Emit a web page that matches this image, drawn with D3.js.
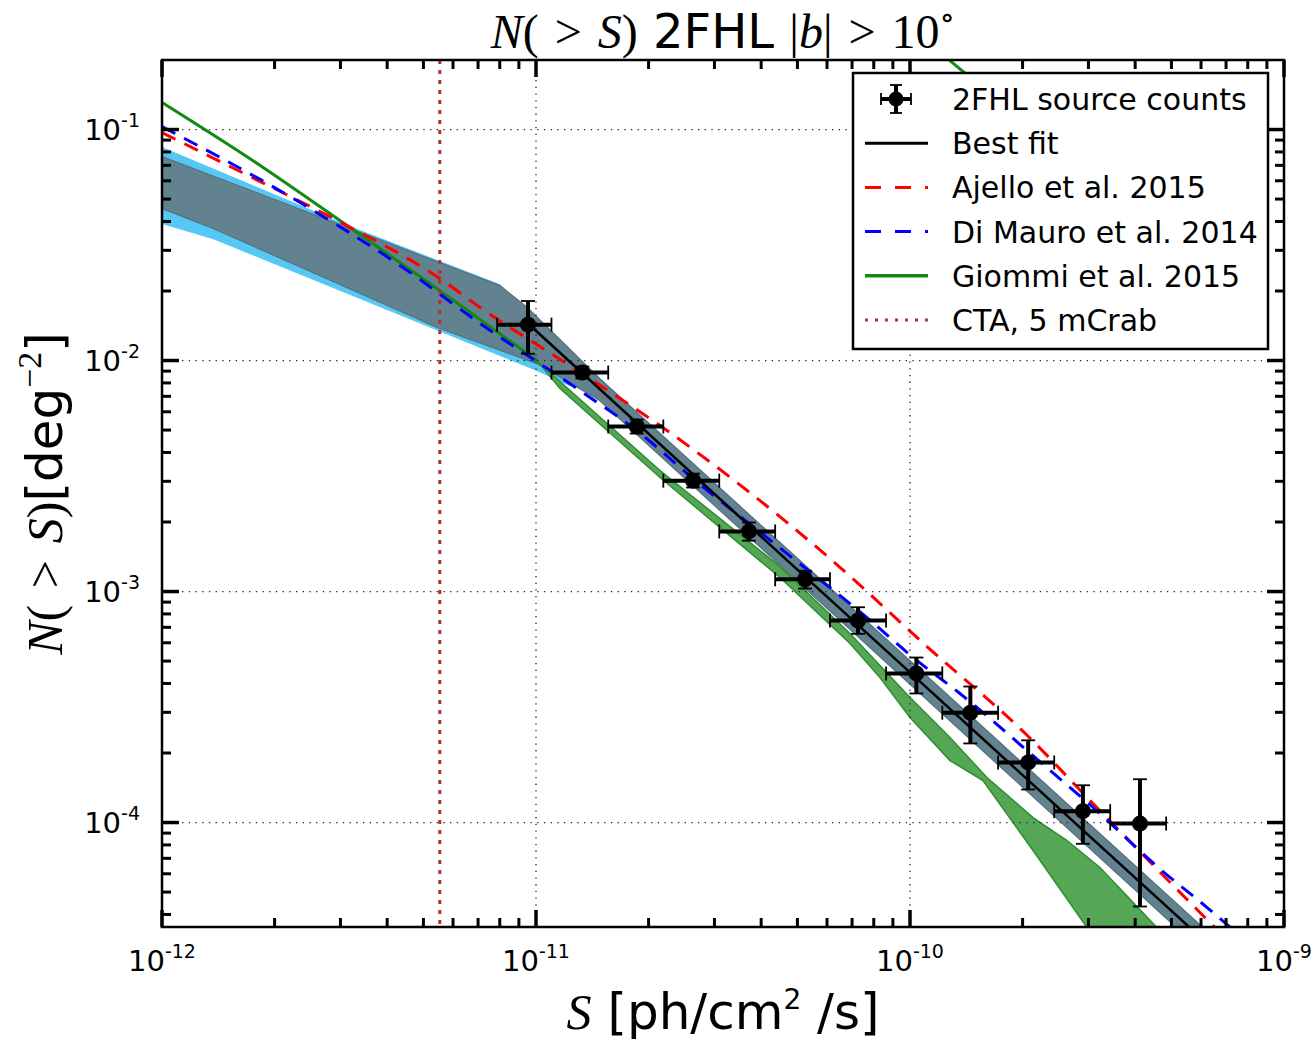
<!DOCTYPE html>
<html>
<head>
<meta charset="utf-8">
<script src="https://cdn.jsdelivr.net/npm/d3@7/dist/d3.min.js"></script>
<style>
body { margin: 0; background: #fff; }
svg { display: block; }
.sans { font-family: "DejaVu Sans", sans-serif; }
.math { font-family: "Liberation Serif", "DejaVu Serif", serif; }
</style>
</head>
<body>
<div id="chart"></div>
<script>
// 2FHL source counts, binned
var binLo = [7.87e-12, 1.10e-11, 1.56e-11, 2.19e-11, 3.09e-11, 4.36e-11, 6.11e-11, 8.63e-11, 1.22e-10, 1.72e-10, 2.43e-10, 3.43e-10];
var binHi = [1.10e-11, 1.56e-11, 2.19e-11, 3.09e-11, 4.36e-11, 6.11e-11, 8.63e-11, 1.22e-10, 1.72e-10, 2.43e-10, 3.43e-10, 4.84e-10];
var countS = [9.52e-12, 1.33e-11, 1.86e-11, 2.63e-11, 3.71e-11, 5.24e-11, 7.26e-11, 1.04e-10, 1.45e-10, 2.07e-10, 2.90e-10, 4.12e-10];
var countN = [1.43e-2, 8.87e-3, 5.18e-3, 3.02e-3, 1.82e-3, 1.13e-3, 7.49e-4, 4.42e-4, 2.99e-4, 1.82e-4, 1.12e-4, 9.90e-5];
var countHi = [1.81e-2, 9.42e-3, 5.55e-3, 3.24e-3, 1.99e-3, 1.23e-3, 8.55e-4, 5.18e-4, 3.88e-4, 2.27e-4, 1.45e-4, 1.54e-4];
var countLo = [1.07e-2, 8.36e-3, 4.83e-3, 2.82e-3, 1.66e-3, 1.03e-3, 6.56e-4, 3.62e-4, 2.20e-4, 1.39e-4, 8.09e-5, 4.33e-5];

// best fit and its uncertainty band
var fitS = [9.52e-12, 5.30e-11, 6.54e-10];
var fitN = [1.446e-2, 1.14e-3, 2.79e-5];
var bandUpS = [1e-12, 8.01e-12, 9.46e-12, 1.48e-11, 1.74e-10, 7.17e-10];
var bandUpN = [7.64e-2, 2.11e-2, 1.70e-2, 8.36e-3, 2.22e-4, 2.75e-5];
var bandLowS = [1e-12, 1.37e-12, 5.44e-12, 1.006e-11, 1.48e-11, 1.74e-10, 7.17e-10];
var bandLowN = [4.55e-2, 3.73e-2, 1.39e-2, 9.70e-3, 6.71e-3, 1.747e-4, 2.154e-5];

// extrapolation band (light blue)
var extUpS = [1e-12, 3.18e-12, 8.01e-12, 1.23e-11];
var extUpN = [8.36e-2, 3.80e-2, 2.13e-2, 1.08e-2];
var extLowS = [1e-12, 1.37e-12, 1.006e-11, 1.23e-11];
var extLowN = [3.92e-2, 3.37e-2, 9.05e-3, 7.79e-3];

// models
var ajelloS = [1e-12, 1.72e-12, 2.94e-12, 5.53e-12, 7.09e-12, 1.23e-11, 2.24e-11, 3.45e-11, 6.11e-11, 1.11e-10, 2.06e-10, 3.03e-10, 5.96e-10, 6.74e-10];
var ajelloN = [0.0970, 0.0626, 0.0404, 0.02265, 0.01696, 9.51e-3, 4.98e-3, 2.96e-3, 1.389e-3, 5.78e-4, 2.38e-4, 1.245e-4, 4.08e-5, 3.34e-5];
var mauroS = [1e-12, 2.34e-12, 4.33e-12, 7.22e-12, 1.31e-11, 1.86e-11, 2.63e-11, 4.69e-11, 7.67e-11, 1.02e-10, 1.36e-10, 2.37e-10, 3.09e-10, 4.58e-10, 6.23e-10, 7.40e-10];
var mauroN = [0.1030, 0.0483, 0.02578, 0.01417, 7.415e-3, 4.977e-3, 3.084e-3, 1.46e-3, 7.716e-4, 5.18e-4, 3.618e-4, 1.679e-4, 1.161e-4, 6.45e-5, 4.285e-5, 3.375e-5];
var giommiS = [1e-12, 1.83e-12, 3.18e-12, 5.53e-12, 1.006e-11];
var giommiN = [0.1309, 0.0699, 0.03765, 0.02009, 0.0100];
var giommiTailS = [1.25e-10, 1.74e-10];
var giommiTailN = [0.205, 0.131];
var giommiUpS = [1.006e-11, 1.159e-11, 2.146e-11, 4.49e-11, 6.91e-11, 1.0e-10, 1.279e-10, 1.606e-10, 2.133e-10, 2.63e-10, 3.22e-10, 4.575e-10, 5.11e-10];
var giommiUpN = [1.0e-2, 8.11e-3, 3.34e-3, 1.283e-3, 6.58e-4, 3.48e-4, 2.333e-4, 1.566e-4, 1.051e-4, 8.36e-5, 6.39e-5, 3.51e-5, 2.93e-5];
var giommiLowS = [1.006e-11, 1.159e-11, 2.146e-11, 4.49e-11, 6.91e-11, 8.31e-11, 1.0e-10, 1.279e-10, 1.567e-10, 2.133e-10, 2.974e-10, 3.22e-10];
var giommiLowN = [1.0e-2, 7.565e-3, 3.115e-3, 1.15e-3, 5.955e-4, 4.24e-4, 2.848e-4, 1.855e-4, 1.52e-4, 7.565e-5, 3.51e-5, 2.93e-5];

var ctaS = 5.53e-12;

var xTicks = [1e-12, 1e-11, 1e-10, 1e-9];
var xTickExp = ["-12", "-11", "-10", "-9"];
var yTicks = [1e-1, 1e-2, 1e-3, 1e-4];
var yTickExp = ["-1", "-2", "-3", "-4"];

var legendLabels = ["2FHL source counts", "Best fit", "Ajello et al. 2015", "Di Mauro et al. 2014", "Giommi et al. 2015", "CTA, 5 mCrab"];

var margin = { top: 60, right: 27, bottom: 113, left: 162 },
    width = 1311 - margin.left - margin.right,
    height = 1040 - margin.top - margin.bottom;

var x = d3.scaleLog().domain([1e-12, 1e-9]).range([0, width]);
var y = d3.scaleLog().domain([3.53e-5, 0.2]).range([height, 0]);

var svg = d3.select("#chart").append("svg")
    .attr("width", 1311)
    .attr("height", 1040);

svg.append("defs").append("clipPath").attr("id", "clip")
    .append("rect").attr("width", width).attr("height", height);

var chart = svg.append("g")
    .attr("transform", "translate(" + margin.left + "," + margin.top + ")");

var plot = chart.append("g").attr("clip-path", "url(#clip)");

function pts(S, N) {
    return S.map(function (s, i) { return [x(s), y(N[i])]; });
}

function bandPath(upS, upN, lowS, lowN) {
    var p = pts(upS, upN).concat(pts(lowS, lowN).reverse());
    return "M" + p.map(function (d) { return d.join(","); }).join("L") + "Z";
}

var smooth = d3.line().curve(d3.curveMonotoneX);
var straight = d3.line();

// bands
plot.append("path")
    .attr("d", bandPath(extUpS, extUpN, extLowS, extLowN))
    .attr("fill", "#55c8f6")
    .attr("stroke", "#55c8f6")
    .attr("stroke-width", 1);

plot.append("path")
    .attr("d", bandPath(bandUpS, bandUpN, bandLowS, bandLowN))
    .attr("fill", "#62828f")
    .attr("stroke", "#55707c")
    .attr("stroke-width", 1.2);

plot.append("path")
    .attr("d", bandPath(giommiUpS, giommiUpN, giommiLowS, giommiLowN))
    .attr("fill", "#55a655")
    .attr("stroke", "#2f8f2f")
    .attr("stroke-width", 1.5);

// grid
chart.append("g").selectAll("line")
    .data(xTicks.slice(1, 3))
    .enter().append("line")
    .attr("x1", function (d) { return x(d); })
    .attr("x2", function (d) { return x(d); })
    .attr("y1", 0).attr("y2", height)
    .attr("stroke", "#222").attr("stroke-width", 1.3)
    .attr("stroke-dasharray", "1.3,5.4");

chart.append("g").selectAll("line")
    .data(yTicks)
    .enter().append("line")
    .attr("y1", function (d) { return y(d); })
    .attr("y2", function (d) { return y(d); })
    .attr("x1", 0).attr("x2", width)
    .attr("stroke", "#222").attr("stroke-width", 1.3)
    .attr("stroke-dasharray", "1.3,5.4");

// model lines
plot.append("path")
    .attr("d", smooth(pts(giommiS, giommiN)))
    .attr("fill", "none").attr("stroke", "#128a12").attr("stroke-width", 3);

plot.append("path")
    .attr("d", straight(pts(giommiTailS, giommiTailN)))
    .attr("fill", "none").attr("stroke", "#128a12").attr("stroke-width", 3);

plot.append("path")
    .attr("d", smooth(pts(ajelloS, ajelloN)))
    .attr("fill", "none").attr("stroke", "#ff0000").attr("stroke-width", 3)
    .attr("stroke-dasharray", "15,10");

plot.append("path")
    .attr("d", smooth(pts(mauroS, mauroN)))
    .attr("fill", "none").attr("stroke", "#0000ff").attr("stroke-width", 3)
    .attr("stroke-dasharray", "15,10");

plot.append("path")
    .attr("d", straight(pts(fitS, fitN)))
    .attr("fill", "none").attr("stroke", "#000").attr("stroke-width", 2.5);

plot.append("line")
    .attr("x1", x(ctaS)).attr("x2", x(ctaS))
    .attr("y1", 0).attr("y2", height)
    .attr("stroke", "#b03030").attr("stroke-width", 3)
    .attr("stroke-dasharray", "4,6");

// error bars
var eb = plot.append("g").selectAll("g")
    .data(countS.map(function (s, i) { return i; }))
    .enter().append("g");

eb.append("line")
    .attr("x1", function (i) { return x(binLo[i]); })
    .attr("x2", function (i) { return x(binHi[i]); })
    .attr("y1", function (i) { return y(countN[i]); })
    .attr("y2", function (i) { return y(countN[i]); })
    .attr("stroke", "#000").attr("stroke-width", 4);

eb.append("line")
    .attr("x1", function (i) { return x(countS[i]); })
    .attr("x2", function (i) { return x(countS[i]); })
    .attr("y1", function (i) { return y(countLo[i]); })
    .attr("y2", function (i) { return y(countHi[i]); })
    .attr("stroke", "#000").attr("stroke-width", 4);

[binLo, binHi].forEach(function (arr) {
    eb.append("line")
        .attr("x1", function (i) { return x(arr[i]); })
        .attr("x2", function (i) { return x(arr[i]); })
        .attr("y1", function (i) { return y(countN[i]) - 7; })
        .attr("y2", function (i) { return y(countN[i]) + 7; })
        .attr("stroke", "#000").attr("stroke-width", 1.8);
});

[countLo, countHi].forEach(function (arr) {
    eb.append("line")
        .attr("x1", function (i) { return x(countS[i]) - 7; })
        .attr("x2", function (i) { return x(countS[i]) + 7; })
        .attr("y1", function (i) { return y(arr[i]); })
        .attr("y2", function (i) { return y(arr[i]); })
        .attr("stroke", "#000").attr("stroke-width", 1.8);
});

eb.append("circle")
    .attr("cx", function (i) { return x(countS[i]); })
    .attr("cy", function (i) { return y(countN[i]); })
    .attr("r", 8)
    .attr("fill", "#000");

// frame and ticks
chart.append("rect")
    .attr("width", width).attr("height", height)
    .attr("fill", "none").attr("stroke", "#000").attr("stroke-width", 2.5);

function minorTicks(lo, hi) {
    var out = [];
    for (var k = Math.floor(Math.log10(lo)) - 1; k <= Math.ceil(Math.log10(hi)); k++) {
        for (var m = 2; m <= 9; m++) {
            var v = m * Math.pow(10, k);
            if (v > lo && v < hi) out.push(v);
        }
    }
    return out;
}

var xMinor = minorTicks(1e-12, 1e-9);
var yMinor = minorTicks(3.53e-5, 0.2);

var tickG = chart.append("g").attr("stroke", "#000");

function addXTicks(vals, len, w) {
    vals.forEach(function (v) {
        tickG.append("line").attr("x1", x(v)).attr("x2", x(v))
            .attr("y1", height).attr("y2", height - len).attr("stroke-width", w);
        tickG.append("line").attr("x1", x(v)).attr("x2", x(v))
            .attr("y1", 0).attr("y2", len).attr("stroke-width", w);
    });
}
function addYTicks(vals, len, w) {
    vals.forEach(function (v) {
        tickG.append("line").attr("y1", y(v)).attr("y2", y(v))
            .attr("x1", 0).attr("x2", len).attr("stroke-width", w);
        tickG.append("line").attr("y1", y(v)).attr("y2", y(v))
            .attr("x1", width).attr("x2", width - len).attr("stroke-width", w);
    });
}
addXTicks(xTicks, 17, 3.5);
addXTicks(xMinor, 9, 3);
addYTicks(yTicks, 17, 3.5);
addYTicks(yMinor, 9, 3);

// tick labels
var xl = chart.append("g").selectAll("text")
    .data(xTicks)
    .enter().append("text")
    .attr("class", "sans")
    .attr("x", function (d) { return x(d); })
    .attr("y", height + 44)
    .attr("text-anchor", "middle")
    .attr("font-size", 29);
xl.append("tspan").text("10");
xl.append("tspan").attr("dy", -13).attr("font-size", 19)
    .text(function (d, i) { return xTickExp[i]; });

var yl = chart.append("g").selectAll("text")
    .data(yTicks)
    .enter().append("text")
    .attr("class", "sans")
    .attr("x", -22)
    .attr("y", function (d) { return y(d) + 10; })
    .attr("text-anchor", "end")
    .attr("font-size", 29);
yl.append("tspan").text("10");
yl.append("tspan").attr("dy", -13).attr("font-size", 19)
    .text(function (d, i) { return yTickExp[i]; });

// title
var title = svg.append("text")
    .attr("x", margin.left + width / 2)
    .attr("y", 48)
    .attr("text-anchor", "middle")
    .attr("font-size", 48);
title.append("tspan").attr("class", "math").attr("font-style", "italic").text("N");
title.append("tspan").attr("class", "math").text("(\u2004>\u2004");
title.append("tspan").attr("class", "math").attr("font-style", "italic").text("S");
title.append("tspan").attr("class", "math").text(")");
title.append("tspan").attr("class", "sans").text(" 2FHL ");
title.append("tspan").attr("class", "math").text("|");
title.append("tspan").attr("class", "math").attr("font-style", "italic").text("b");
title.append("tspan").attr("class", "math").text("|\u2004>\u200410");
title.append("tspan").attr("class", "math").attr("dy", -20).attr("font-size", 32).text("\u2218");

// x label
var xlab = svg.append("text")
    .attr("x", margin.left + width / 2)
    .attr("y", 1029)
    .attr("text-anchor", "middle")
    .attr("font-size", 50);
xlab.append("tspan").attr("class", "math").attr("font-style", "italic").text("S");
xlab.append("tspan").attr("class", "sans").text(" [ph/cm");
xlab.append("tspan").attr("class", "sans").attr("dy", -20).attr("font-size", 28).text("2");
xlab.append("tspan").attr("class", "sans").attr("dy", 20).text(" /s]");

// y label
var ylab = svg.append("text")
    .attr("transform", "translate(62," + (margin.top + height / 2) + ") rotate(-90)")
    .attr("text-anchor", "middle")
    .attr("font-size", 50);
ylab.append("tspan").attr("class", "math").attr("font-style", "italic").text("N");
ylab.append("tspan").attr("class", "math").text("(\u2004>\u2004");
ylab.append("tspan").attr("class", "math").attr("font-style", "italic").text("S");
ylab.append("tspan").attr("class", "math").text(")");
ylab.append("tspan").attr("class", "sans").text("[deg");
ylab.append("tspan").attr("class", "math").attr("dy", -21).attr("font-size", 34).text("\u22122");
ylab.append("tspan").attr("class", "sans").attr("dy", 21).text("]");

// legend
var leg = chart.append("g").attr("transform", "translate(" + (853 - margin.left) + "," + (73 - margin.top) + ")");
leg.append("rect")
    .attr("width", 415).attr("height", 276)
    .attr("fill", "#fff").attr("stroke", "#000").attr("stroke-width", 2.5);

var rowY = function (i) { return 26 + i * 44.2; };

leg.selectAll("text.lab")
    .data(legendLabels)
    .enter().append("text")
    .attr("class", "sans lab")
    .attr("x", 99)
    .attr("y", function (d, i) { return rowY(i) + 11; })
    .attr("font-size", 30)
    .text(function (d) { return d; });

// legend handles
var h0 = leg.append("g").attr("transform", "translate(43," + rowY(0) + ")");
h0.append("line").attr("x1", -15).attr("x2", 15).attr("stroke", "#000").attr("stroke-width", 4);
h0.append("line").attr("y1", -14).attr("y2", 14).attr("stroke", "#000").attr("stroke-width", 4);
h0.append("line").attr("x1", -15).attr("x2", -15).attr("y1", -6).attr("y2", 6).attr("stroke", "#000").attr("stroke-width", 1.8);
h0.append("line").attr("x1", 15).attr("x2", 15).attr("y1", -6).attr("y2", 6).attr("stroke", "#000").attr("stroke-width", 1.8);
h0.append("line").attr("x1", -6).attr("x2", 6).attr("y1", -14).attr("y2", -14).attr("stroke", "#000").attr("stroke-width", 1.8);
h0.append("line").attr("x1", -6).attr("x2", 6).attr("y1", 14).attr("y2", 14).attr("stroke", "#000").attr("stroke-width", 1.8);
h0.append("circle").attr("r", 7.5).attr("fill", "#000");

var handles = [
    { stroke: "#000", dash: null, w: 3 },
    { stroke: "#ff0000", dash: "16,14", w: 3 },
    { stroke: "#0000ff", dash: "16,14", w: 3 },
    { stroke: "#128a12", dash: null, w: 3.5 },
    { stroke: "#b03030", dash: "3,7", w: 3 }
];
handles.forEach(function (h, i) {
    leg.append("line")
        .attr("x1", 12).attr("x2", 75)
        .attr("y1", rowY(i + 1)).attr("y2", rowY(i + 1))
        .attr("stroke", h.stroke).attr("stroke-width", h.w)
        .attr("stroke-dasharray", h.dash);
});
</script>
</body>
</html>
